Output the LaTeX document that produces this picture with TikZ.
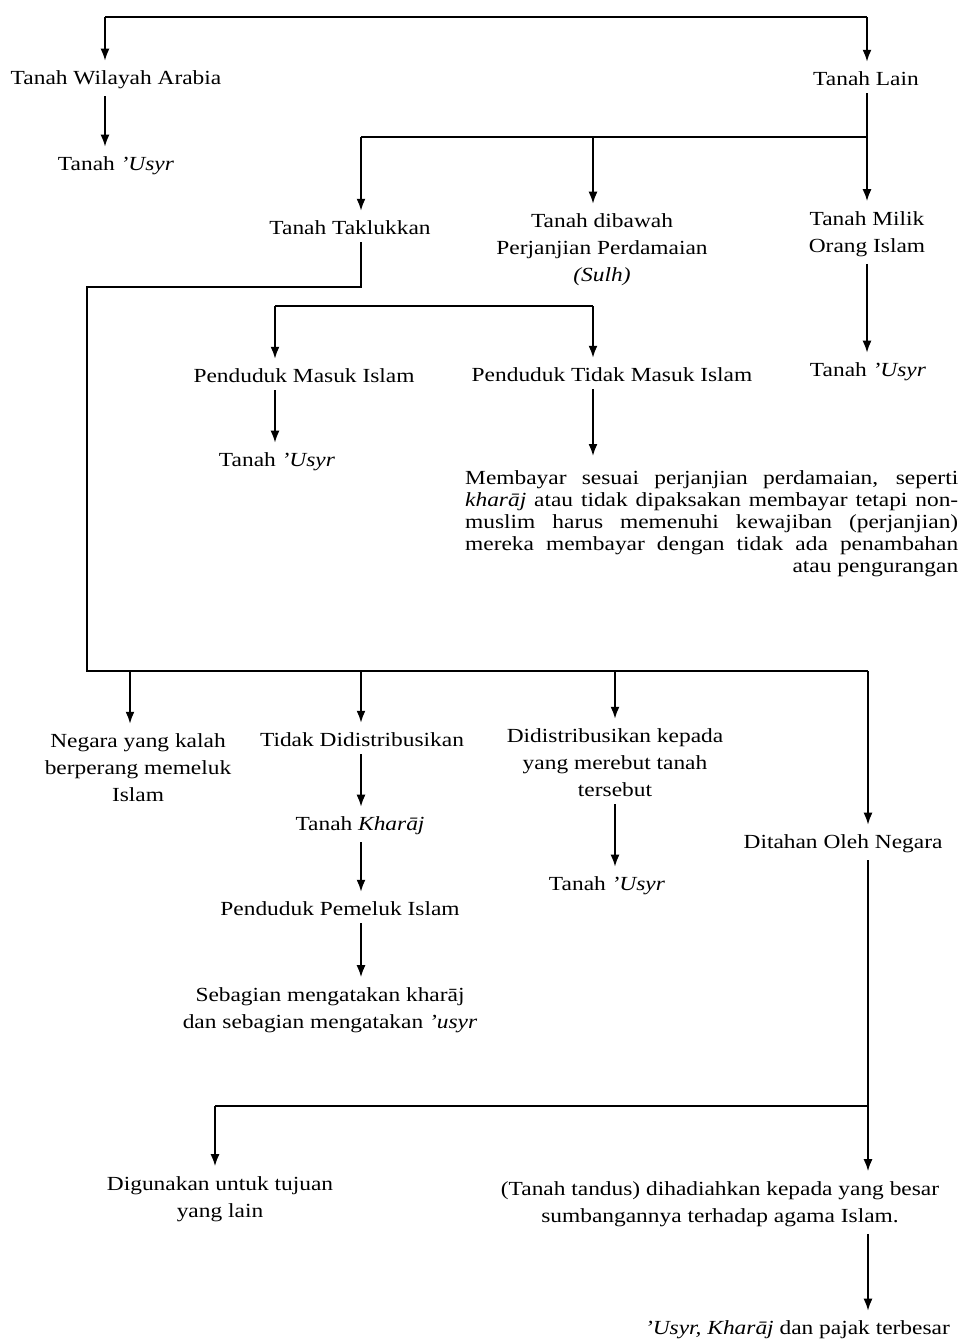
\documentclass[tikz,border=0pt]{standalone}
\usepackage{fontspec}
\setmainfont{Liberation Serif}[FakeStretch=1.17]
\usetikzlibrary{arrows.meta}
\begin{document}
\begin{tikzpicture}[x=1pt,y=-1pt,
  txt/.style={inner sep=2pt, align=center, font=\fontsize{20}{27}\selectfont},
  ln/.style={line width=1.8pt},
  arr/.style={ln, -{Latex[length=12pt,width=9pt]}, shorten >=8pt},
  from/.style={shorten <=5pt},
]
\useasboundingbox (0,0) rectangle (960,1343);
\fill[white] (0,0) rectangle (960,1343);

% nodes
\node[txt] (wil) at (116,80) {Tanah Wilayah Arabia};
\node[txt] (usyr1) at (116,166) {Tanah \textit{'Usyr}};
\node[txt] (lain) at (866,79) {Tanah Lain};
\node[txt] (takl) at (350,228) {Tanah Taklukkan};
\node[txt] (sulh) at (602,250) {Tanah dibawah\\Perjanjian Perdamaian\\\textit{(Sulh)}};
\node[txt] (milik) at (867,234) {Tanah Milik\\Orang Islam};
\node[txt] (pmi) at (304,376) {Penduduk Masuk Islam};
\node[txt] (usyr2) at (277,462) {Tanah \textit{'Usyr}};
\node[txt] (ptmi) at (612,375) {Penduduk Tidak Masuk Islam};
\node[anchor=north west, text width=493pt, align=justify, inner sep=0pt,
      font=\fontsize{20}{22}\selectfont] (para) at (465,470)
  {Membayar sesuai perjanjian perdamaian, seperti\linebreak
   \textit{kharāj} atau tidak dipaksakan membayar tetapi non-\linebreak
   muslim harus memenuhi kewajiban (perjanjian)\linebreak
   mereka membayar dengan tidak ada penambahan\linebreak
   \mbox{}\hfill atau pengurangan\hspace*{13pt}};
\node[txt] (usyr3) at (868,372) {Tanah \textit{'Usyr}};
\node[txt] (neg) at (138,768) {Negara yang kalah\\berperang memeluk\\Islam};
\node[txt] (tdd) at (362,740) {Tidak Didistribusikan};
\node[txt] (khar) at (360,826) {Tanah \textit{Kharāj}};
\node[txt] (ppi) at (340,909) {Penduduk Pemeluk Islam};
\node[txt] (seb) at (330,1010) {Sebagian mengatakan kharāj\\dan sebagian mengatakan \textit{'usyr}};
\node[txt] (did) at (615,763) {Didistribusikan kepada\\yang merebut tanah\\tersebut};
\node[txt] (usyr4) at (607,886) {Tanah \textit{'Usyr}};
\node[txt] (dit) at (843,844) {Ditahan Oleh Negara};
\node[txt] (gun) at (220,1199) {Digunakan untuk tujuan\\yang lain};
\node[txt] (tand) at (720,1204) {(Tanah tandus) dihadiahkan kepada yang besar\\sumbangannya terhadap agama Islam.};
\node[txt, anchor=east] (last) at (952,1330) {\textit{'Usyr, Kharāj} dan pajak terbesar};

% junction coordinates
\coordinate (tl) at (105,17);
\coordinate (tr) at (867,17);
\coordinate (j2) at (867,137);
\coordinate (j2l) at (361,137);
\coordinate (j2m) at (593,137);
\coordinate (c1) at (361,287);
\coordinate (c2) at (87,287);
\coordinate (c3) at (87,671);
\coordinate (c4) at (868,671);
\coordinate (b1) at (130,671);
\coordinate (b2) at (361,671);
\coordinate (b3) at (615,671);
\coordinate (d1) at (275,306);
\coordinate (d2) at (593,306);
\coordinate (e1) at (215,1106);
\coordinate (e2) at (868,1106);

% top level
\draw[ln] (tl) -- (tr);
\draw[arr] (tl) -- (tl |- wil.north);
\draw[arr] (tr) -- (tr |- lain.north);
\draw[arr, from] (wil.south -| tl) -- (usyr1.north -| tl);

% Tanah Lain branches
\draw[ln, from] (lain.south -| j2) -- (j2);
\draw[ln] (j2l) -- (j2);
\draw[arr] (j2l) -- (j2l |- takl.north);
\draw[arr] (j2m) -- (j2m |- sulh.north);
\draw[arr] (j2) -- (j2 |- milik.north);
\draw[arr, from] (milik.south -| j2) -- (usyr3.north -| j2);

% Tanah Taklukkan
\draw[ln, from] (takl.south -| c1) -- (c1) -- (c2) -- (c3) -- (c4);
\draw[ln] (d1) -- (d2);
\draw[arr] (d1) -- (d1 |- pmi.north);
\draw[arr] (d2) -- (d2 |- ptmi.north);
\draw[arr, from] (pmi.south -| d1) -- (usyr2.north -| d1);
\draw[arr, from, shorten >=14pt] (ptmi.south -| d2) -- (para.north -| d2);

% lower bar
\draw[arr] (b1) -- (b1 |- neg.north);
\draw[arr] (b2) -- (b2 |- tdd.north);
\draw[arr] (b3) -- (b3 |- did.north);
\draw[arr] (c4) -- (c4 |- dit.north);
\draw[arr, from] (tdd.south -| b2) -- (khar.north -| b2);
\draw[arr, from] (khar.south -| b2) -- (ppi.north -| b2);
\draw[arr, from] (ppi.south -| b2) -- (seb.north -| b2);
\draw[arr, from] (did.south -| b3) -- (usyr4.north -| b3);

% Ditahan Oleh Negara
\draw[ln, from] (dit.south -| e2) -- (e2);
\draw[ln] (e1) -- (e2);
\draw[arr] (e1) -- (e1 |- gun.north);
\draw[arr] (e2) -- (e2 |- tand.north);
\draw[arr, from] (tand.south -| e2) -- (last.north -| e2);
\end{tikzpicture}
\end{document}
